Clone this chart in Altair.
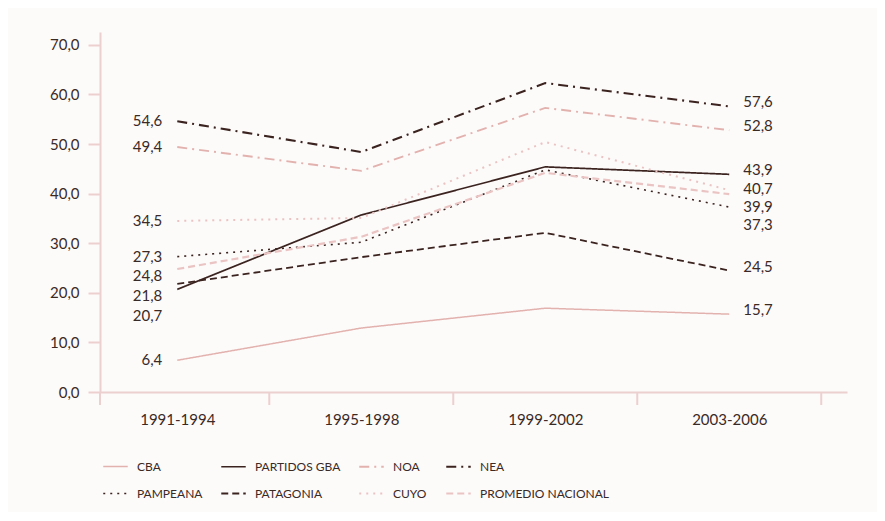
import altair as alt
import pandas as pd

periods = ["1991-1994", "1995-1998", "1999-2002", "2003-2006"]
series = ["CBA", "PARTIDOS GBA", "NOA", "NEA", "PAMPEANA", "PATAGONIA", "CUYO", "PROMEDIO NACIONAL"]

cba = [6.4, 12.9, 16.9, 15.7]
gba = [20.7, 35.7, 45.4, 43.9]
noa = [49.4, 44.6, 57.3, 52.8]
nea = [54.6, 48.4, 62.3, 57.6]
pampeana = [27.3, 30.2, 44.8, 37.3]
patagonia = [21.8, 27.2, 32.1, 24.5]
cuyo = [34.5, 35.1, 50.4, 40.7]
promedio = [24.8, 31.3, 44.2, 39.9]

all_vals = [cba, gba, noa, nea, pampeana, patagonia, cuyo, promedio]

DARK = "#3b2420"
PINK = "#e2b2ae"
LPINK = "#e9c4c2"
AXIS = "#ecd0cf"
TEXT = "#3a2a26"
FONT = "Lato"

colors = [PINK, DARK, PINK, DARK, DARK, DARK, LPINK, LPINK]
dashes = [[1, 0], [1, 0], [10, 5, 2, 5], [10, 5, 2, 5], [2, 5], [7, 4], [2, 5], [7, 4]]
widths = [1.5, 2, 1.5, 2.2, 2.2, 2.2, 1.5, 1.5]

# legend fills column by column: reorder so rows read like the original
ncol = 4
leg_order = []
for c in range(ncol):
    leg_order += [c, c + ncol]
dom = [series[k] for k in leg_order]
col_r = [colors[k] for k in leg_order]
dash_r = [dashes[k] for k in leg_order]
wid_r = [widths[k] for k in leg_order]

rows = []
for s, vals in zip(series, all_vals):
    for i, (p, v) in enumerate(zip(periods, vals)):
        rows.append({"series": s, "idx": i, "period": p, "value": v})
df = pd.DataFrame(rows)


def spread(vals, gap):
    order = sorted(range(len(vals)), key=lambda k: -vals[k])
    pos = [0.0] * len(vals)
    prev = None
    for k in order:
        p = vals[k] if prev is None else min(vals[k], prev - gap)
        pos[k] = p
        prev = p
    return pos


first = [v[0] for v in all_vals]
last = [v[-1] for v in all_vals]
lab_rows = []
for v, p in zip(first, spread(first, 4.0)):
    lab_rows.append({"idx": 0, "ly": p, "txt": f"{v:.1f}".replace(".", ","), "side": "L"})
for v, p in zip(last, spread(last, 3.7)):
    lab_rows.append({"idx": len(periods) - 1, "ly": p + 0.8, "txt": f"{v:.1f}".replace(".", ","), "side": "R"})
labs = pd.DataFrame(lab_rows)

x_lo, x_hi = -0.42, 3.64
ticks = pd.DataFrame({"t": [x_lo] + [i + 0.5 for i in range(len(periods))]})

xscale = alt.Scale(domain=[x_lo, x_hi], nice=False, zero=False)
yscale = alt.Scale(domain=[0, 72.6], nice=False)

label_expr = "[" + ",".join(f"'{p}'" for p in periods) + "][datum.value]"

lines = alt.Chart(df).mark_line(clip=False).encode(
    x=alt.X("idx:Q", scale=xscale, axis=alt.Axis(values=list(range(len(periods))), labelExpr=label_expr,
                                                   ticks=False, grid=False, title=None, domainColor=AXIS,
                                                   domainWidth=2, labelFontSize=15, labelColor=TEXT,
                                                   labelFont=FONT, labelPadding=20)),
    y=alt.Y("value:Q", scale=yscale, axis=alt.Axis(values=[0, 10, 20, 30, 40, 50, 60, 70], grid=False, title=None,
                                                     labelExpr="replace(format(datum.value, '.1f'), '.', ',')",
                                                     domainColor=AXIS, domainWidth=2, tickColor=AXIS, tickWidth=2,
                                                     tickSize=12, labelPadding=9, labelFontSize=15,
                                                     labelColor=TEXT, labelFont=FONT)),
    color=alt.Color("series:N", scale=alt.Scale(domain=dom, range=col_r),
                    legend=alt.Legend(title=None, orient="none", legendX=2, legendY=421, columns=4,
                                      symbolType="stroke", symbolSize=600, labelFontSize=12,
                                      labelColor=TEXT, labelFont=FONT, columnPadding=14, rowPadding=7,
                                      labelOffset=8)),
    strokeDash=alt.StrokeDash("series:N", scale=alt.Scale(domain=dom, range=dash_r)),
    strokeWidth=alt.StrokeWidth("series:N", scale=alt.Scale(domain=dom, range=wid_r)),
    detail="series:N",
)

left = alt.Chart(labs).transform_filter("datum.side == 'L'").mark_text(
    align="right", baseline="middle", dx=-15, fontSize=15, font=FONT, color=TEXT
).encode(x=alt.X("idx:Q", scale=xscale), y=alt.Y("ly:Q", scale=yscale), text="txt:N")

right = alt.Chart(labs).transform_filter("datum.side == 'R'").mark_text(
    align="left", baseline="middle", dx=14, fontSize=15, font=FONT, color=TEXT
).encode(x=alt.X("idx:Q", scale=xscale), y=alt.Y("ly:Q", scale=yscale), text="txt:N")

tick_rules = alt.Chart(ticks).mark_rule(color=AXIS, strokeWidth=2).encode(
    x=alt.X("t:Q", scale=xscale), y=alt.value(360), y2=alt.value(373)
)

chart = alt.layer(tick_rules, lines, left, right).properties(
    width=747, height=360, padding={"left": 41, "top": 24, "right": 30, "bottom": 12}
).configure(background="#fdfafa").configure_view(stroke=None)

chart.save("out.html", embed_options={"renderer": "svg", "actions": False})
